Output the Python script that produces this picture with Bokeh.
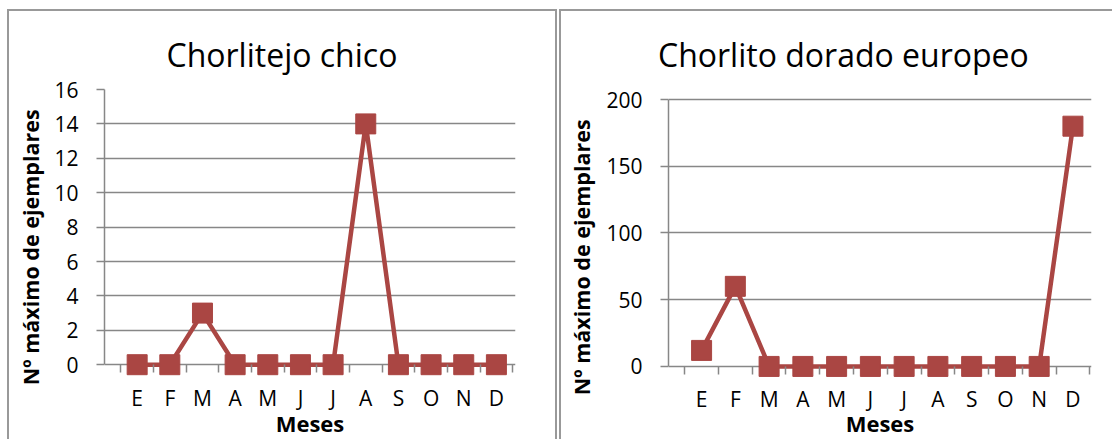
from bokeh.plotting import figure
from bokeh.models import Range1d, FixedTicker, Title
from bokeh.layouts import row
from bokeh.embed import file_html
from bokeh.resources import INLINE

# ---- data ----
months = ["E", "F", "M", "A", "M", "J", "J", "A", "S", "O", "N", "D"]
chorlitejo_chico = [0, 0, 3, 0, 0, 0, 0, 14, 0, 0, 0, 0]
chorlito_dorado = [12, 60, 0, 0, 0, 0, 0, 0, 0, 0, 0, 180]
titles = ["Chorlitejo chico", "Chorlito dorado europeo"]
y_ticks_left = [0, 2, 4, 6, 8, 10, 12, 14, 16]
y_ticks_right = [0, 50, 100, 150, 200]
x_axis_title = "Meses"
y_axis_title = "Nº máximo de ejemplares"

RED = "#AA4643"
GRID = "#878787"
BORDER = "2px solid #999999"
FONT = "Open Sans"


def make_panel(values, yticks, title, width, height, mb_left, mb_right, mb_top, mb_bottom,
               x_start, x_end, y_start, y_end, tick_in, tick_out, lab_standoff, xlab_standoff,
               title_offset, ylab_offset, ylab_standoff, styles):
    xs = list(range(1, len(values) + 1))
    p = figure(width=width, height=height, title=None, output_backend="svg",
               toolbar_location=None, x_range=Range1d(x_start, x_end),
               y_range=Range1d(y_start, y_end),
               min_border_left=mb_left, min_border_right=mb_right,
               min_border_top=mb_top, min_border_bottom=mb_bottom)
    p.styles = styles
    p.outline_line_color = None
    p.background_fill_color = "white"
    p.border_fill_color = "white"

    # x axis (category boundaries as small ticks hanging under the zero line)
    xa = p.xaxis[0]
    xa.ticker = FixedTicker(ticks=xs, minor_ticks=[i + 0.5 for i in range(0, len(values) + 1)])
    xa.major_label_overrides = {x: m for x, m in zip(xs, months)}
    xa.major_tick_out = 0
    xa.major_tick_in = 0
    xa.minor_tick_in = tick_in
    xa.minor_tick_out = tick_out
    xa.minor_tick_line_color = GRID
    xa.minor_tick_line_width = 1.5
    xa.axis_line_color = None
    xa.major_label_standoff = lab_standoff
    xa.major_label_text_font = FONT
    xa.major_label_text_font_size = "21px"
    xa.major_label_text_color = "black"
    xa.axis_label = x_axis_title
    xa.axis_label_text_font = FONT
    xa.axis_label_text_font_size = "22px"
    xa.axis_label_text_font_style = "bold"
    xa.axis_label_text_color = "black"
    xa.axis_label_standoff = xlab_standoff

    # y axis
    ya = p.yaxis[0]
    ya.ticker = FixedTicker(ticks=yticks, minor_ticks=[])
    ya.bounds = (yticks[0], yticks[-1])
    ya.major_tick_out = 8
    ya.major_tick_in = 0
    ya.major_tick_line_color = GRID
    ya.major_tick_line_width = 1.5
    ya.axis_line_color = GRID
    ya.axis_line_width = 1.5
    ya.major_label_standoff = 18
    ya.major_label_text_font = FONT
    ya.major_label_text_font_size = "21px"
    ya.major_label_text_color = "black"

    p.xgrid.visible = False
    p.ygrid.grid_line_color = GRID
    p.ygrid.grid_line_width = 1.5

    p.line(xs, values, line_color=RED, line_width=4.5)
    p.scatter(xs, values, marker="square", size=20, fill_color=RED, line_color=RED)

    p.add_layout(Title(text=title, text_font=FONT, text_font_size="32px",
                       text_font_style="normal", text_color="black",
                       align="left", offset=title_offset, standoff=28), "above")
    p.add_layout(Title(text=y_axis_title, text_font=FONT, text_font_size="21.5px",
                       text_font_style="bold", text_color="black", vertical_align="top",
                       align="left", offset=ylab_offset, standoff=ylab_standoff), "left")
    return p


s1 = {"box-sizing": "content-box", "margin-left": "7px", "margin-top": "9px",
      "border-left": BORDER, "border-top": BORDER, "border-right": BORDER}
s2 = {"box-sizing": "content-box", "margin-left": "2px", "margin-top": "9px",
      "border-left": BORDER, "border-top": BORDER}

p1 = make_panel(chorlitejo_chico, y_ticks_left, titles[0], 546, 428, 95, 44, 78, 64,
                0.0, 12.585, -0.744, 16, 13, -5, 6, -7, 62, -7.7, 10, s1)
p2 = make_panel(chorlito_dorado, y_ticks_right, titles[1], 551, 428, 107, 23, 78, 64,
                0.02, 12.55, -8.3, 207.5, 11, -3, 7, -8, -10.5, -17.7, 11, s2)

layout = row(p1, p2)
open("out.html", "w").write(file_html(layout, INLINE))
